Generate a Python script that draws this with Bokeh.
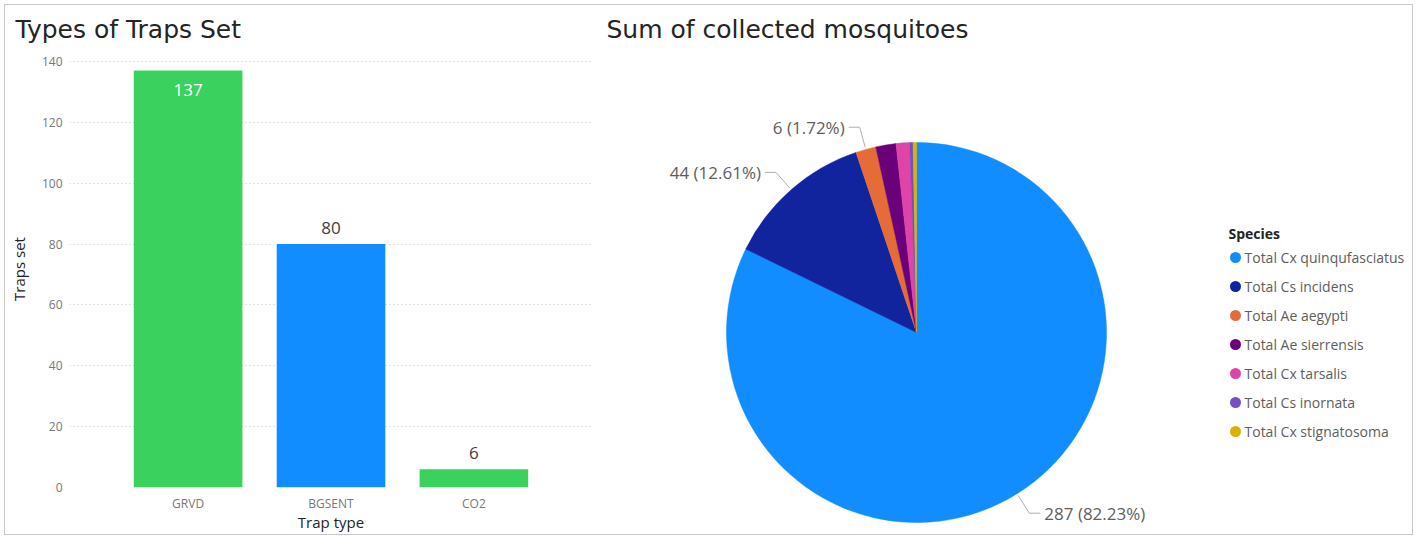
import math
from bokeh.plotting import figure
from bokeh.layouts import row
from bokeh.models import ColumnDataSource, FactorRange, Range1d, SingleIntervalTicker
from bokeh.core.properties import value
from bokeh.embed import file_html
from bokeh.resources import INLINE

# ---------------- data ----------------
trap_types = ["GRVD", "BGSENT", "CO2"]
traps_set = [137, 80, 6]
bar_colors = ["#3AD15F", "#118DFF", "#3AD15F"]

species = [
    "Total Cx quinqufasciatus",
    "Total Cs incidens",
    "Total Ae aegypti",
    "Total Ae sierrensis",
    "Total Cx tarsalis",
    "Total Cs inornata",
    "Total Cx stignatosoma",
]
mosquitoes = [287, 44, 6, 6, 4, 1, 1]
species_colors = ["#118DFF", "#12239E", "#E66C37", "#6B007B", "#E044A7", "#744EC2", "#D9B300"]

# ---------------- styles ----------------
TITLE_FONT = "DejaVu Sans"
FONT = "Open Sans"
DARK = "#252423"
GREY = "#605E5C"
H = 529
TOP = 43


def style_title(p, text, offset, standoff):
    p.title.text = text
    p.title.align = "left"
    p.title.offset = offset
    p.title.standoff = standoff
    p.title.text_font = TITLE_FONT
    p.title.text_font_size = "25px"
    p.title.text_font_style = "normal"
    p.title.text_color = DARK


# ---------------- left: bar chart ----------------
Y_END = 143.6
p1 = figure(
    width=600, height=H,
    x_range=FactorRange(factors=trap_types, range_padding=0.22),
    y_range=Range1d(0, Y_END),
    output_backend="svg", toolbar_location=None,
    min_border_left=58, min_border_right=13, min_border_top=TOP, min_border_bottom=45,
)
p1.frame_align = False
p1.outline_line_color = None
style_title(p1, "Types of Traps Set", -54, 14)

src = ColumnDataSource(dict(trap=trap_types, n=traps_set, color=bar_colors))
p1.vbar(x="trap", top="n", width=0.76, fill_color="color", line_color=None, source=src)

inside = [v > 0.9 * Y_END for v in traps_set]
in_src = ColumnDataSource(dict(
    trap=[t for t, i in zip(trap_types, inside) if i],
    n=[v for v, i in zip(traps_set, inside) if i],
    txt=[str(v) for v, i in zip(traps_set, inside) if i]))
out_src = ColumnDataSource(dict(
    trap=[t for t, i in zip(trap_types, inside) if not i],
    n=[v for v, i in zip(traps_set, inside) if not i],
    txt=[str(v) for v, i in zip(traps_set, inside) if not i]))
p1.text(x="trap", y="n", text="txt", source=in_src, y_offset=19,
        text_align="center", text_baseline="middle", text_color="white",
        text_font=value(FONT), text_font_size="17px")
p1.text(x="trap", y="n", text="txt", source=out_src, y_offset=-16,
        text_align="center", text_baseline="middle", text_color="#404040",
        text_font=value(FONT), text_font_size="17px")

p1.yaxis.ticker = SingleIntervalTicker(interval=20)
for ax in (p1.xaxis[0], p1.yaxis[0]):
    ax.axis_line_color = None
    ax.major_tick_line_color = None
    ax.minor_tick_line_color = None
    ax.major_tick_out = 0
    ax.major_tick_in = 0
    ax.major_label_text_font = FONT
    ax.major_label_text_font_size = "12px"
    ax.major_label_text_color = "#777777"
    ax.axis_label_text_font = FONT
    ax.axis_label_text_font_style = "normal"
    ax.axis_label_text_color = DARK
    ax.axis_label_text_font_size = "15px"
p1.yaxis.axis_label = "Traps set"
p1.yaxis.major_label_standoff = 3
p1.yaxis.axis_label_standoff = 10
p1.xaxis.axis_label = "Trap type"
p1.xaxis.major_label_standoff = 7
p1.xaxis.axis_label_standoff = -3
p1.xgrid.grid_line_color = None
p1.ygrid.grid_line_color = "#C8C6C4"
p1.ygrid.grid_line_dash = "1 3"

# ---------------- right: pie chart ----------------
W2 = 807
p2 = figure(
    width=W2, height=H,
    x_range=Range1d(0, W2), y_range=Range1d(0, H - TOP),
    output_backend="svg", toolbar_location=None,
    x_axis_location=None, y_axis_location=None,
    min_border_left=0, min_border_right=0, min_border_top=TOP, min_border_bottom=0,
)
p2.frame_align = False
p2.outline_line_color = None
p2.grid.visible = False
style_title(p2, "Sum of collected mosquitoes", 1, 10)

CX, CY, R = 311, 202, 190
total = sum(mosquitoes)
starts, ends, cum = [], [], 0
for v in mosquitoes:
    starts.append(math.pi / 2 - 2 * math.pi * cum / total)
    cum += v
    ends.append(math.pi / 2 - 2 * math.pi * cum / total)
p2.wedge(x=CX, y=CY, radius=R, start_angle="s", end_angle="e", direction="clock",
         fill_color="c", line_color="c", line_width=0.5,
         source=ColumnDataSource(dict(s=starts, e=ends, c=species_colors)))

# data labels with leader lines (skip when they would overlap)
xs, ys, lx, ly, lt, la = [], [], [], [], [], []
placed = {"L": [], "R": []}
cum = 0
for v in mosquitoes:
    th = 2 * math.pi * (cum + v / 2) / total
    cum += v
    ux, uy = math.sin(th), math.cos(th)
    side = "R" if ux >= 0 else "L"
    ey = CY + (R + 23) * uy
    if any(abs(ey - q) < 20 for q in placed[side]):
        continue
    placed[side].append(ey)
    x0, y0 = CX + (R + 2) * ux, CY + (R + 2) * uy
    ex = CX + (R + 23) * ux
    sgn = 1 if side == "R" else -1
    xs.append([x0, ex, ex + sgn * 11])
    ys.append([y0, ey, ey])
    lx.append(ex + sgn * 15)
    ly.append(ey)
    lt.append(f"{v} ({100 * v / total:.2f}%)")
    la.append("left" if side == "R" else "right")
p2.multi_line(xs=xs, ys=ys, line_color="#B3B0AD", line_width=1)
p2.text(x="x", y="y", text="t", text_align="a", text_baseline="middle",
        text_color=GREY, text_font=value(FONT), text_font_size="17px",
        source=ColumnDataSource(dict(x=lx, y=ly, t=lt, a=la)))

# legend
LGX, LGY, STEP = 623, 301, 29
p2.text(x=[LGX], y=[LGY], text=["Species"], text_baseline="middle",
        text_color=DARK, text_font=value(FONT), text_font_size="14px",
        text_font_style="bold")
leg_y = [LGY - 24 - i * STEP for i in range(len(species))]
p2.scatter(x=[LGX + 7] * len(species), y=leg_y, size=11, fill_color=species_colors,
           line_color=None)
p2.text(x=[LGX + 16] * len(species), y=leg_y, text=species, text_baseline="middle",
        text_color=GREY, text_font=value(FONT), text_font_size="14px")

layout = row(p1, p2, styles={"border": "1px solid #C8C8C8",
                             "margin-left": "4px", "margin-top": "4px"})
open("out.html", "w").write(file_html(layout, INLINE))
